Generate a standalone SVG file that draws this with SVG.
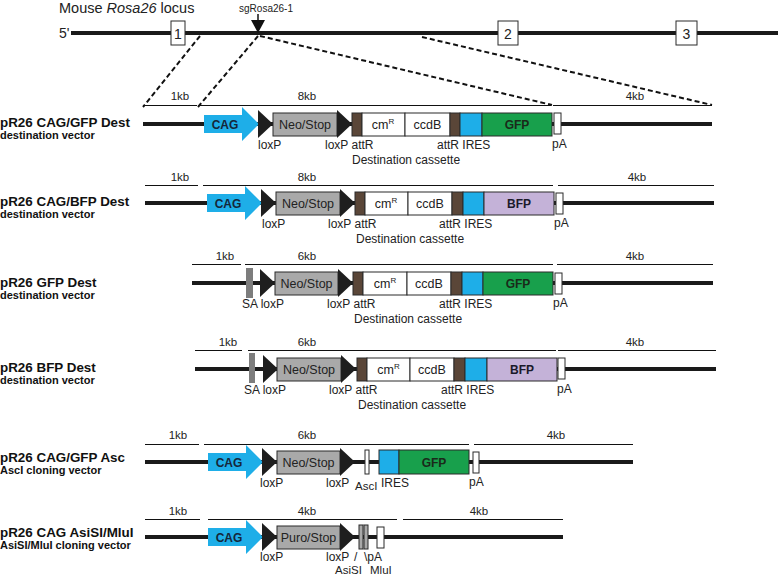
<svg xmlns="http://www.w3.org/2000/svg" width="778" height="576" viewBox="0 0 778 576">
<style>
text{font-family:"Liberation Sans",Arial,sans-serif;fill:#222}
.bb{stroke:#1a1a1a;stroke-width:4}
.sc{stroke:#111;stroke-width:1}
.lbl{font-size:12px}
.kb{font-size:11.5px;text-anchor:middle}
.title{font-size:13.4px;font-weight:bold;fill:#111}
.sub{font-size:11px;font-weight:bold;fill:#111}
.box{stroke:#2a2a2a;stroke-width:1}
.neo{fill:#a9a9a9}
.attr{fill:#5a4638}
.ires{fill:#1eaee8}
.gfp{fill:#18a04c}
.bfp{fill:#c4b2d8}
.wht{fill:#fff}
.cag{fill:#1eaee8}
.tri{fill:#1e1e1e}
.sa{fill:#7d7d7d}
.in{font-size:12.5px;text-anchor:middle}
.bold{font-size:12px;font-weight:bold;text-anchor:middle}
.dash{stroke:#111;stroke-width:2;stroke-dasharray:5,3;fill:none}
</style>
<defs>
<polygon id="lox" class="tri" points="0,-14 15,0 0,14"/>
<path id="cagArrow" class="cag" d="M0,-9 H38 V-17 L55,0 L38,17 V9 H0 Z"/>
</defs>

<g id="locus">
<text x="59" y="13" style="font-size:14.5px">Mouse <tspan font-style="italic">Rosa26</tspan> locus</text>
<text x="59" y="38" style="font-size:14px">5'</text>
<line class="bb" x1="71" y1="33" x2="778" y2="33"/>
<g id="exon1"><rect class="box wht" x="171" y="21" width="14" height="24"/><text x="178" y="38.5" style="font-size:14px" text-anchor="middle">1</text></g>
<g id="exon2"><rect class="box wht" x="498" y="21" width="20" height="24"/><text x="508" y="38.5" style="font-size:14px" text-anchor="middle">2</text></g>
<g id="exon3"><rect class="box wht" x="676" y="21" width="21" height="24"/><text x="686.5" y="38.5" style="font-size:14px" text-anchor="middle">3</text></g>
<g id="sgRNA"><text x="266" y="12" style="font-size:10px" text-anchor="middle">sgRosa26-1</text>
<line x1="258" y1="14" x2="258" y2="22" stroke="#111" stroke-width="1.5"/>
<polygon points="251,20 265,20 258,33" fill="#111"/></g>
</g>

<g id="connectors">
<line class="dash" x1="200" y1="36" x2="143" y2="107"/>
<line class="dash" x1="258" y1="36" x2="198" y2="107"/>
<line class="dash" x1="260" y1="36" x2="552" y2="105"/>
<line class="dash" x1="422" y1="37" x2="712" y2="105"/>
</g>

<!-- Row 1 -->
<g id="row1">
<text class="title" x="0" y="127">pR26 CAG/GFP Dest</text>
<text class="sub" x="0" y="139">destination vector</text>
<g class="scale"><line class="sc" x1="143" y1="105.5" x2="197" y2="105.5"/><line class="sc" x1="199" y1="105.5" x2="551" y2="105.5"/><line class="sc" x1="553" y1="105.5" x2="712" y2="105.5"/>
<text class="kb" x="180" y="100">1kb</text><text class="kb" x="307" y="100">8kb</text><text class="kb" x="635" y="100">4kb</text></g>
<line class="bb" x1="143" y1="124" x2="712" y2="124"/>
<g id="r1-cag"><use href="#cagArrow" x="204" y="124"/><text class="bold" x="225" y="128.5" fill="#15263a" style="fill:#15263a">CAG</text></g>
<use id="r1-lox1" href="#lox" x="258" y="124"/>
<g id="r1-neo"><rect class="box neo" x="273" y="113" width="64" height="23"/><text class="in" x="305" y="129">Neo/Stop</text></g>
<use id="r1-lox2" href="#lox" x="337" y="124"/>
<rect id="r1-attr1" class="box attr" x="352" y="113" width="10" height="23"/>
<g id="r1-cm"><rect class="box wht" x="362" y="113" width="43" height="23"/><text class="in" x="383" y="129">cm<tspan font-size="8" dy="-5">R</tspan></text></g>
<g id="r1-ccdb"><rect class="box wht" x="405" y="113" width="45" height="23"/><text class="in" x="427.5" y="129">ccdB</text></g>
<rect id="r1-attr2" class="box attr" x="450" y="113" width="10" height="23"/>
<rect id="r1-ires" class="box ires" x="460" y="113" width="22" height="23"/>
<g id="r1-gfp"><rect class="box gfp" x="482" y="113" width="70" height="23"/><text class="bold" x="517" y="129" style="fill:#1a2a1a">GFP</text></g>
<rect id="r1-pa" class="box wht" x="554" y="113" width="7" height="21"/>
<text class="lbl" x="258" y="149">loxP</text>
<text class="lbl" x="325" y="149">loxP attR</text>
<text class="lbl" x="437" y="149">attR IRES</text>
<text class="lbl" x="552" y="148">pA</text>
<text class="lbl" x="352" y="164">Destination cassette</text>
</g>

<!-- Row 2 -->
<g id="row2">
<text class="title" x="0" y="206">pR26 CAG/BFP Dest</text>
<text class="sub" x="0" y="218">destination vector</text>
<g class="scale"><line class="sc" x1="145" y1="185.5" x2="198" y2="185.5"/><line class="sc" x1="203" y1="185.5" x2="553" y2="185.5"/><line class="sc" x1="558" y1="185.5" x2="714" y2="185.5"/>
<text class="kb" x="180" y="181">1kb</text><text class="kb" x="307" y="181">8kb</text><text class="kb" x="637" y="181">4kb</text></g>
<line class="bb" x1="145" y1="203" x2="714" y2="203"/>
<g id="r2-cag"><use href="#cagArrow" x="207" y="203"/><text class="bold" x="228" y="207.5" style="fill:#15263a">CAG</text></g>
<use id="r2-lox1" href="#lox" x="261" y="203"/>
<g id="r2-neo"><rect class="box neo" x="276" y="192" width="64" height="23"/><text class="in" x="308" y="208">Neo/Stop</text></g>
<use id="r2-lox2" href="#lox" x="340" y="203"/>
<rect id="r2-attr1" class="box attr" x="355" y="192" width="10" height="23"/>
<g id="r2-cm"><rect class="box wht" x="365" y="192" width="43" height="23"/><text class="in" x="386" y="208">cm<tspan font-size="8" dy="-5">R</tspan></text></g>
<g id="r2-ccdb"><rect class="box wht" x="408" y="192" width="44" height="23"/><text class="in" x="430" y="208">ccdB</text></g>
<rect id="r2-attr2" class="box attr" x="452" y="192" width="11" height="23"/>
<rect id="r2-ires" class="box ires" x="463" y="192" width="21" height="23"/>
<g id="r2-bfp"><rect class="box bfp" x="484" y="192" width="70" height="23"/><text class="bold" x="519" y="208" style="fill:#1a1a2a">BFP</text></g>
<rect id="r2-pa" class="box wht" x="556" y="193" width="7" height="21"/>
<text class="lbl" x="262" y="228">loxP</text>
<text class="lbl" x="328" y="228">loxP attR</text>
<text class="lbl" x="439" y="228">attR IRES</text>
<text class="lbl" x="554" y="227">pA</text>
<text class="lbl" x="356" y="243">Destination cassette</text>
</g>

<!-- Row 3 -->
<g id="row3">
<text class="title" x="0" y="287">pR26 GFP Dest</text>
<text class="sub" x="0" y="299">destination vector</text>
<g class="scale"><line class="sc" x1="192" y1="264.5" x2="241" y2="264.5"/><line class="sc" x1="245" y1="264.5" x2="553" y2="264.5"/><line class="sc" x1="557" y1="264.5" x2="713" y2="264.5"/>
<text class="kb" x="225" y="260">1kb</text><text class="kb" x="307" y="260">6kb</text><text class="kb" x="635" y="260">4kb</text></g>
<line class="bb" x1="192" y1="283" x2="713" y2="283"/>
<rect id="r3-sa" class="sa" x="246" y="268" width="7" height="30"/>
<use id="r3-lox1" href="#lox" x="260" y="283"/>
<g id="r3-neo"><rect class="box neo" x="275" y="272" width="63" height="23"/><text class="in" x="306.5" y="288">Neo/Stop</text></g>
<use id="r3-lox2" href="#lox" x="338" y="283"/>
<rect id="r3-attr1" class="box attr" x="353" y="272" width="10" height="23"/>
<g id="r3-cm"><rect class="box wht" x="363" y="272" width="44" height="23"/><text class="in" x="385" y="288">cm<tspan font-size="8" dy="-5">R</tspan></text></g>
<g id="r3-ccdb"><rect class="box wht" x="407" y="272" width="44" height="23"/><text class="in" x="429" y="288">ccdB</text></g>
<rect id="r3-attr2" class="box attr" x="451" y="272" width="11" height="23"/>
<rect id="r3-ires" class="box ires" x="462" y="272" width="21" height="23"/>
<g id="r3-gfp"><rect class="box gfp" x="483" y="272" width="70" height="23"/><text class="bold" x="518" y="288" style="fill:#1a2a1a">GFP</text></g>
<rect id="r3-pa" class="box wht" x="555" y="273" width="7" height="21"/>
<text class="lbl" x="242" y="308">SA loxP</text>
<text class="lbl" x="327" y="308">loxP attR</text>
<text class="lbl" x="439" y="308">attR IRES</text>
<text class="lbl" x="553" y="307">pA</text>
<text class="lbl" x="354" y="323">Destination cassette</text>
</g>

<!-- Row 4 -->
<g id="row4">
<text class="title" x="0" y="372">pR26 BFP Dest</text>
<text class="sub" x="0" y="384">destination vector</text>
<g class="scale"><line class="sc" x1="195" y1="350.5" x2="242" y2="350.5"/><line class="sc" x1="248" y1="350.5" x2="556" y2="350.5"/><line class="sc" x1="558" y1="350.5" x2="716" y2="350.5"/>
<text class="kb" x="228" y="346">1kb</text><text class="kb" x="307" y="346">6kb</text><text class="kb" x="635" y="346">4kb</text></g>
<line class="bb" x1="195" y1="369" x2="716" y2="369"/>
<rect id="r4-sa" class="sa" x="249" y="353" width="6" height="30"/>
<use id="r4-lox1" href="#lox" x="263" y="369"/>
<g id="r4-neo"><rect class="box neo" x="277" y="358" width="64" height="23"/><text class="in" x="309" y="374">Neo/Stop</text></g>
<use id="r4-lox2" href="#lox" x="341" y="369"/>
<rect id="r4-attr1" class="box attr" x="357" y="358" width="10" height="23"/>
<g id="r4-cm"><rect class="box wht" x="367" y="358" width="43" height="23"/><text class="in" x="388.5" y="374">cm<tspan font-size="8" dy="-5">R</tspan></text></g>
<g id="r4-ccdb"><rect class="box wht" x="410" y="358" width="44" height="23"/><text class="in" x="432" y="374">ccdB</text></g>
<rect id="r4-attr2" class="box attr" x="454" y="358" width="11" height="23"/>
<rect id="r4-ires" class="box ires" x="465" y="358" width="22" height="23"/>
<g id="r4-bfp"><rect class="box bfp" x="487" y="358" width="70" height="23"/><text class="bold" x="522" y="374" style="fill:#1a1a2a">BFP</text></g>
<rect id="r4-pa" class="box wht" x="558" y="358" width="7" height="21"/>
<text class="lbl" x="244" y="394">SA loxP</text>
<text class="lbl" x="329" y="394">loxP attR</text>
<text class="lbl" x="441" y="394">attR IRES</text>
<text class="lbl" x="557" y="393">pA</text>
<text class="lbl" x="358" y="409">Destination cassette</text>
</g>

<!-- Row 5 -->
<g id="row5">
<text class="title" x="0" y="462">pR26 CAG/GFP Asc</text>
<text class="sub" x="0" y="474">AscI cloning vector</text>
<g class="scale"><line class="sc" x1="145" y1="444.5" x2="199" y2="444.5"/><line class="sc" x1="204" y1="444.5" x2="469" y2="444.5"/><line class="sc" x1="474" y1="444.5" x2="633" y2="444.5"/>
<text class="kb" x="178" y="439">1kb</text><text class="kb" x="307" y="439">6kb</text><text class="kb" x="556" y="439">4kb</text></g>
<line class="bb" x1="145" y1="462" x2="633" y2="462"/>
<g id="r5-cag"><use href="#cagArrow" x="208" y="462"/><text class="bold" x="229" y="466.5" style="fill:#15263a">CAG</text></g>
<use id="r5-lox1" href="#lox" x="262" y="462"/>
<g id="r5-neo"><rect class="box neo" x="277" y="451" width="63" height="23"/><text class="in" x="308.5" y="467">Neo/Stop</text></g>
<use id="r5-lox2" href="#lox" x="340" y="462"/>
<rect id="r5-asci" class="box wht" x="365" y="450" width="4" height="24"/>
<rect id="r5-ires" class="box ires" x="379" y="450" width="20" height="24"/>
<g id="r5-gfp"><rect class="box gfp" x="399" y="450" width="70" height="24"/><text class="bold" x="434" y="466.5" style="fill:#1a2a1a">GFP</text></g>
<rect id="r5-pa" class="box wht" x="473" y="452" width="6" height="21"/>
<text class="lbl" x="260" y="487">loxP</text>
<text class="lbl" x="326" y="487">loxP</text>
<text x="355" y="490" style="font-size:11.5px">AscI</text>
<text class="lbl" x="381" y="487">IRES</text>
<text class="lbl" x="469" y="486">pA</text>
</g>

<!-- Row 6 -->
<g id="row6">
<text class="title" x="0" y="537">pR26 CAG AsiSI/MluI</text>
<text class="sub" x="0" y="549">AsiSI/MluI cloning vector</text>
<g class="scale"><line class="sc" x1="145" y1="519.5" x2="200" y2="519.5"/><line class="sc" x1="208" y1="519.5" x2="397" y2="519.5"/><line class="sc" x1="403" y1="519.5" x2="563" y2="519.5"/>
<text class="kb" x="178" y="515">1kb</text><text class="kb" x="307" y="515">4kb</text><text class="kb" x="479" y="515">4kb</text></g>
<line class="bb" x1="145" y1="537" x2="563" y2="537"/>
<g id="r6-cag"><use href="#cagArrow" x="208" y="537"/><text class="bold" x="229" y="541.5" style="fill:#15263a">CAG</text></g>
<use id="r6-lox1" href="#lox" x="262" y="537"/>
<g id="r6-puro"><rect class="box neo" x="277" y="526" width="63" height="23"/><text class="in" x="308.5" y="542">Puro/Stop</text></g>
<use id="r6-lox2" href="#lox" x="340" y="537"/>
<g id="r6-asisi"><rect class="box neo" x="359" y="525" width="4" height="24"/><rect class="box neo" x="364" y="525" width="4" height="24"/></g>
<rect id="r6-mlui" class="box wht" x="377" y="527" width="7" height="21"/>
<text class="lbl" x="260" y="561">loxP</text>
<text class="lbl" x="326" y="561">loxP</text>
<text class="lbl" x="354" y="561">/</text>
<text class="lbl" x="364" y="561">\pA</text>
<text class="lbl" x="335" y="574" style="font-size:11.5px">AsiSI</text>
<text class="lbl" x="370" y="574" style="font-size:11.5px">MluI</text>
</g>
</svg>
